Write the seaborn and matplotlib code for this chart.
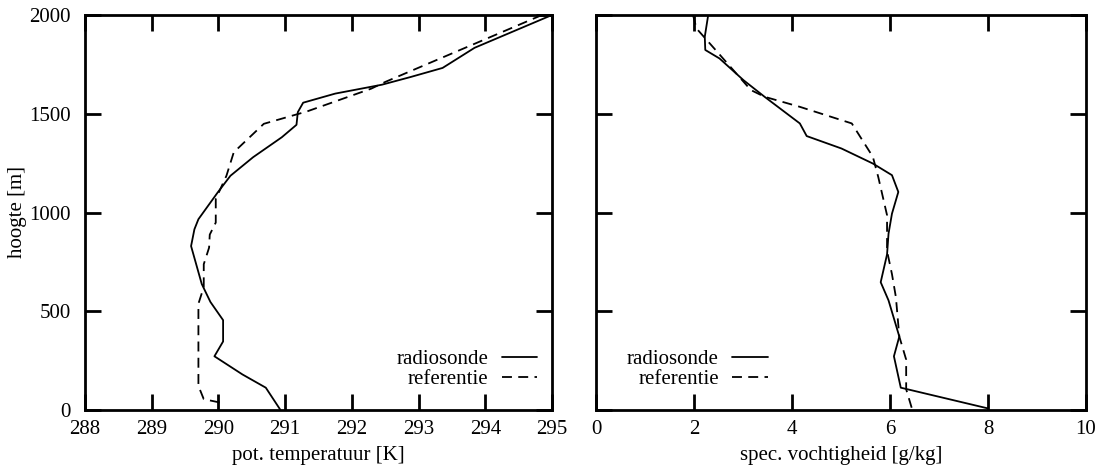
import matplotlib
matplotlib.use("Agg")
import matplotlib.pyplot as plt
import seaborn as sns
import pandas as pd
from matplotlib.lines import Line2D

# ---- data ----
temp_sonde_T = [295.0, 293.84, 293.36, 292.88, 292.45, 291.75, 291.27, 291.19, 291.17,
                290.95, 290.52, 290.18, 289.99, 289.70, 289.64, 289.59, 289.75, 289.88,
                290.07, 290.07, 289.94, 290.36, 290.71, 290.93]
temp_sonde_h = [2000, 1834, 1732, 1686, 1647, 1602, 1556, 1508, 1444,
                1381, 1280, 1186, 1102, 966, 915, 830, 638, 547,
                455, 347, 272, 180, 113, 0]

temp_ref_T = [294.85, 292.50, 292.29, 291.33, 290.68, 290.23, 290.12, 289.96, 289.96,
              289.87, 289.86, 289.78, 289.78, 289.70, 289.70, 289.78, 290.02, 290.10]
temp_ref_h = [2000, 1661, 1627, 1512, 1449, 1305, 1186, 1068, 949,
              888, 822, 738, 622, 538, 122, 55, 38, 22]

q_sonde = [2.29, 2.22, 2.23, 2.52, 3.01, 3.44, 4.16, 4.30, 5.01, 5.65, 6.04, 6.17,
           6.04, 5.97, 5.94, 5.81, 5.97, 6.19, 6.08, 6.22, 8.0]
q_sonde_h = [2000, 1890, 1823, 1780, 1670, 1586, 1451, 1387, 1324, 1248, 1189, 1104,
             994, 893, 788, 647, 555, 372, 272, 113, 8]

q_ref = [1.98, 2.05, 2.44, 3.16, 3.44, 4.16, 5.22, 5.65, 5.76, 5.94, 5.94, 6.04,
         6.12, 6.19, 6.33, 6.33, 6.45]
q_ref_h = [2000, 1932, 1823, 1620, 1586, 1535, 1451, 1282, 1180, 986, 805, 688,
           572, 372, 255, 105, 5]

series_labels = ["radiosonde", "referentie"]
temp_ticks = [288, 289, 290, 291, 292, 293, 294, 295]
q_ticks = [0, 2, 4, 6, 8, 10]
h_ticks = [0, 500, 1000, 1500, 2000]

# ---- style ----
sns.set_theme(style="ticks")
FS = 15
plt.rcParams["font.family"] = ["Liberation Serif", "DejaVu Serif"]
plt.rcParams["font.size"] = FS
plt.rcParams["text.color"] = "black"
plt.rcParams["axes.labelcolor"] = "black"
plt.rcParams["xtick.color"] = "black"
plt.rcParams["ytick.color"] = "black"

fig = plt.figure(figsize=(11.06, 4.68), dpi=100)
W, H = 1106, 468
ax1 = fig.add_axes([85 / W, (H - 410) / H, (552 - 85) / W, (410 - 15) / H])
ax2 = fig.add_axes([596 / W, (H - 410) / H, (1086 - 596) / W, (410 - 15) / H])

lw = 1.3
dash = (5.5, 3.5)

sns.lineplot(x=temp_sonde_T, y=temp_sonde_h, sort=False, estimator=None,
             color="black", lw=lw, ax=ax1)
sns.lineplot(x=temp_ref_T, y=temp_ref_h, sort=False, estimator=None,
             color="black", lw=lw, ax=ax1).lines[-1].set_dashes(dash)
sns.lineplot(x=q_sonde, y=q_sonde_h, sort=False, estimator=None,
             color="black", lw=lw, ax=ax2)
sns.lineplot(x=q_ref, y=q_ref_h, sort=False, estimator=None,
             color="black", lw=lw, ax=ax2).lines[-1].set_dashes(dash)

def style_axes(ax, xticks, show_ylabels):
    ax.set_ylim(0, 2000)
    ax.set_xlim(xticks[0], xticks[-1])
    ax.set_xticks(xticks)
    ax.set_yticks(h_ticks)
    ax.set_xticklabels([str(t) for t in xticks])
    if not show_ylabels:
        ax.set_yticklabels([])
    for s in ax.spines.values():
        s.set_visible(True)
        s.set_linewidth(2.0)
        s.set_color("black")
    ax.tick_params(axis="both", which="major", direction="in", length=11.5,
                   width=2.0, top=True, right=True, labelsize=FS)
    ax.tick_params(axis="x", pad=7)
    ax.tick_params(axis="y", pad=10)
    ax.set_facecolor("white")
    ax.grid(False)

style_axes(ax1, temp_ticks, True)
style_axes(ax2, q_ticks, False)

ax1.set_xlabel("pot. temperatuur [K]", fontsize=FS, labelpad=5)
ax1.set_ylabel("hoogte [m]", fontsize=FS)
ax1.yaxis.set_label_coords(-0.125, 0.5)
ax2.set_xlabel("spec. vochtigheid [g/kg]", fontsize=FS, labelpad=5)
ax2.set_ylabel("")

handles = [Line2D([0], [0], color="black", lw=lw),
           Line2D([0], [0], color="black", lw=lw, dashes=dash)]
leg_kw = dict(frameon=False, markerfirst=False, fontsize=FS, handlelength=1.7,
              labelspacing=0.0, borderpad=0.0, handletextpad=0.65)
ax1.legend(handles, series_labels, loc="lower right", bbox_to_anchor=(0.991, 0.027),
           **leg_kw)
ax2.legend(handles, series_labels, loc="lower left", bbox_to_anchor=(0.042, 0.027),
           **leg_kw)

fig.patch.set_facecolor("white")
fig.savefig("out.png", dpi=100, facecolor="white")
